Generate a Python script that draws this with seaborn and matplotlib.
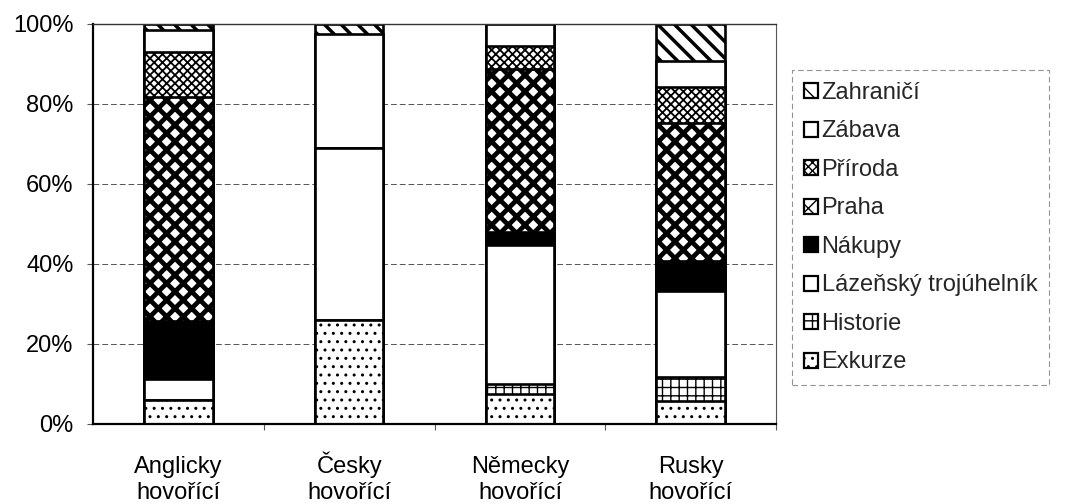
import matplotlib
matplotlib.use("Agg")
import matplotlib.pyplot as plt
import matplotlib.patches as mpatches
from matplotlib.ticker import FixedLocator, PercentFormatter
import numpy as np
import seaborn as sns

# Share of tour types (%) by language group of visitors
categories = ["Anglicky\nhovořící", "Česky\nhovořící", "Německy\nhovořící", "Rusky\nhovořící"]
exkurze = [6.0, 26.0, 7.5, 5.75]
historie = [0.0, 0.0, 2.5, 6.0]
lazensky = [5.25, 43.0, 34.75, 21.5]
nakupy = [14.5, 0.0, 3.25, 7.5]
praha = [56.0, 0.0, 40.75, 34.5]
priroda = [11.25, 0.0, 5.75, 9.0]
zabava = [5.5, 28.5, 5.5, 6.5]
zahranici = [1.5, 2.5, 0.0, 9.25]

series_names = ["Exkurze", "Historie", "Lázeňský trojúhelník", "Nákupy",
                "Praha", "Příroda", "Zábava", "Zahraničí"]
series_values = [exkurze, historie, lazensky, nakupy, praha, priroda, zabava, zahranici]

# fill colour, hatch pattern, hatch line width for each series
styles = {
    "Exkurze": ("white", "..", 1.0),
    "Historie": ("white", "++", 1.0),
    "Lázeňský trojúhelník": ("white", "", 1.0),
    "Nákupy": ("black", "", 1.0),
    "Praha": ("white", "xx", 3.4),
    "Příroda": ("white", "xxxx", 1.3),
    "Zábava": ("white", "", 1.0),
    "Zahraničí": ("white", "\\\\", 2.5),
}

FS = 17

sns.set_theme(style="white")
plt.rcParams["font.family"] = ["Liberation Sans", "DejaVu Sans"]
plt.rcParams["hatch.color"] = "black"

fig = plt.figure(figsize=(10.65, 5.04), dpi=100)
ax = fig.add_axes([93 / 1065, 1 - 424 / 504, (776 - 93) / 1065, 400 / 504])

# stacked bars drawn as overlapping cumulative totals, top series first
cum = np.cumsum(np.array(series_values), axis=0)
for i in range(len(series_names) - 1, -1, -1):
    name = series_names[i]
    face, hatch, hlw = styles[name]
    n_before = len(ax.patches)
    with plt.rc_context({"hatch.linewidth": hlw}):
        sns.barplot(x=categories, y=cum[i], color=face, saturation=1,
                    width=0.4, edgecolor="black", linewidth=1.9,
                    hatch=hatch if hatch else None, errorbar=None, ax=ax)
    for p in ax.patches[n_before:]:
        p.set_facecolor(face)
        p.set_edgecolor("black")
        if hasattr(p, "set_hatch_linewidth"):
            p.set_hatch_linewidth(hlw)

ax.set_xlim(-0.5, 3.5)
ax.set_ylim(0, 100)
ax.set_xlabel("")
ax.set_ylabel("")
ax.yaxis.set_major_locator(FixedLocator([0, 20, 40, 60, 80, 100]))
ax.yaxis.set_major_formatter(PercentFormatter(decimals=0))
ax.set_axisbelow(True)
ax.grid(axis="y", color="#555555", linestyle=(0, (6, 3)), linewidth=0.7)
ax.grid(axis="x", visible=False)

ax.tick_params(axis="y", labelsize=FS, length=4, width=0.8, color="#555555",
               pad=10, left=True, labelcolor="black")
ax.tick_params(axis="x", which="major", labelsize=FS, length=0, pad=54,
               labelcolor="black")
ax.xaxis.set_minor_locator(FixedLocator([0.5, 1.5, 2.5, 3.5]))
ax.tick_params(axis="x", which="minor", length=4, width=0.8, color="#555555",
               bottom=True)
# align category names on a common baseline
for lbl in ax.get_xticklabels():
    lbl.set_linespacing(1.22)
    lbl.set_verticalalignment("baseline")

for side in ["left", "bottom"]:
    ax.spines[side].set_color("black")
    ax.spines[side].set_linewidth(1.6)
ax.spines["top"].set_color("#333333")
ax.spines["top"].set_linewidth(1.0)
ax.spines["right"].set_color("#555555")
ax.spines["right"].set_linewidth(0.8)

# legend with pattern swatches, top series listed first
handles = []
for name in reversed(series_names):
    face, hatch, hlw = styles[name]
    h = mpatches.Patch(facecolor=face, edgecolor="black", linewidth=1.6,
                       hatch=hatch if hatch else None, label=name)
    handles.append(h)
leg = fig.legend(handles=handles, loc="upper left",
                 bbox_to_anchor=(792 / 1065, 1 - 70 / 504),
                 bbox_transform=fig.transFigure, borderaxespad=0,
                 fontsize=FS, frameon=True, fancybox=False,
                 handlelength=0.6, handleheight=0.6, handletextpad=0.15,
                 labelspacing=0.7, borderpad=0.5)
frame = leg.get_frame()
frame.set_edgecolor("#777777")
frame.set_linestyle((0, (5, 3)))
frame.set_linewidth(0.8)

fig.savefig("out.png", dpi=100)
